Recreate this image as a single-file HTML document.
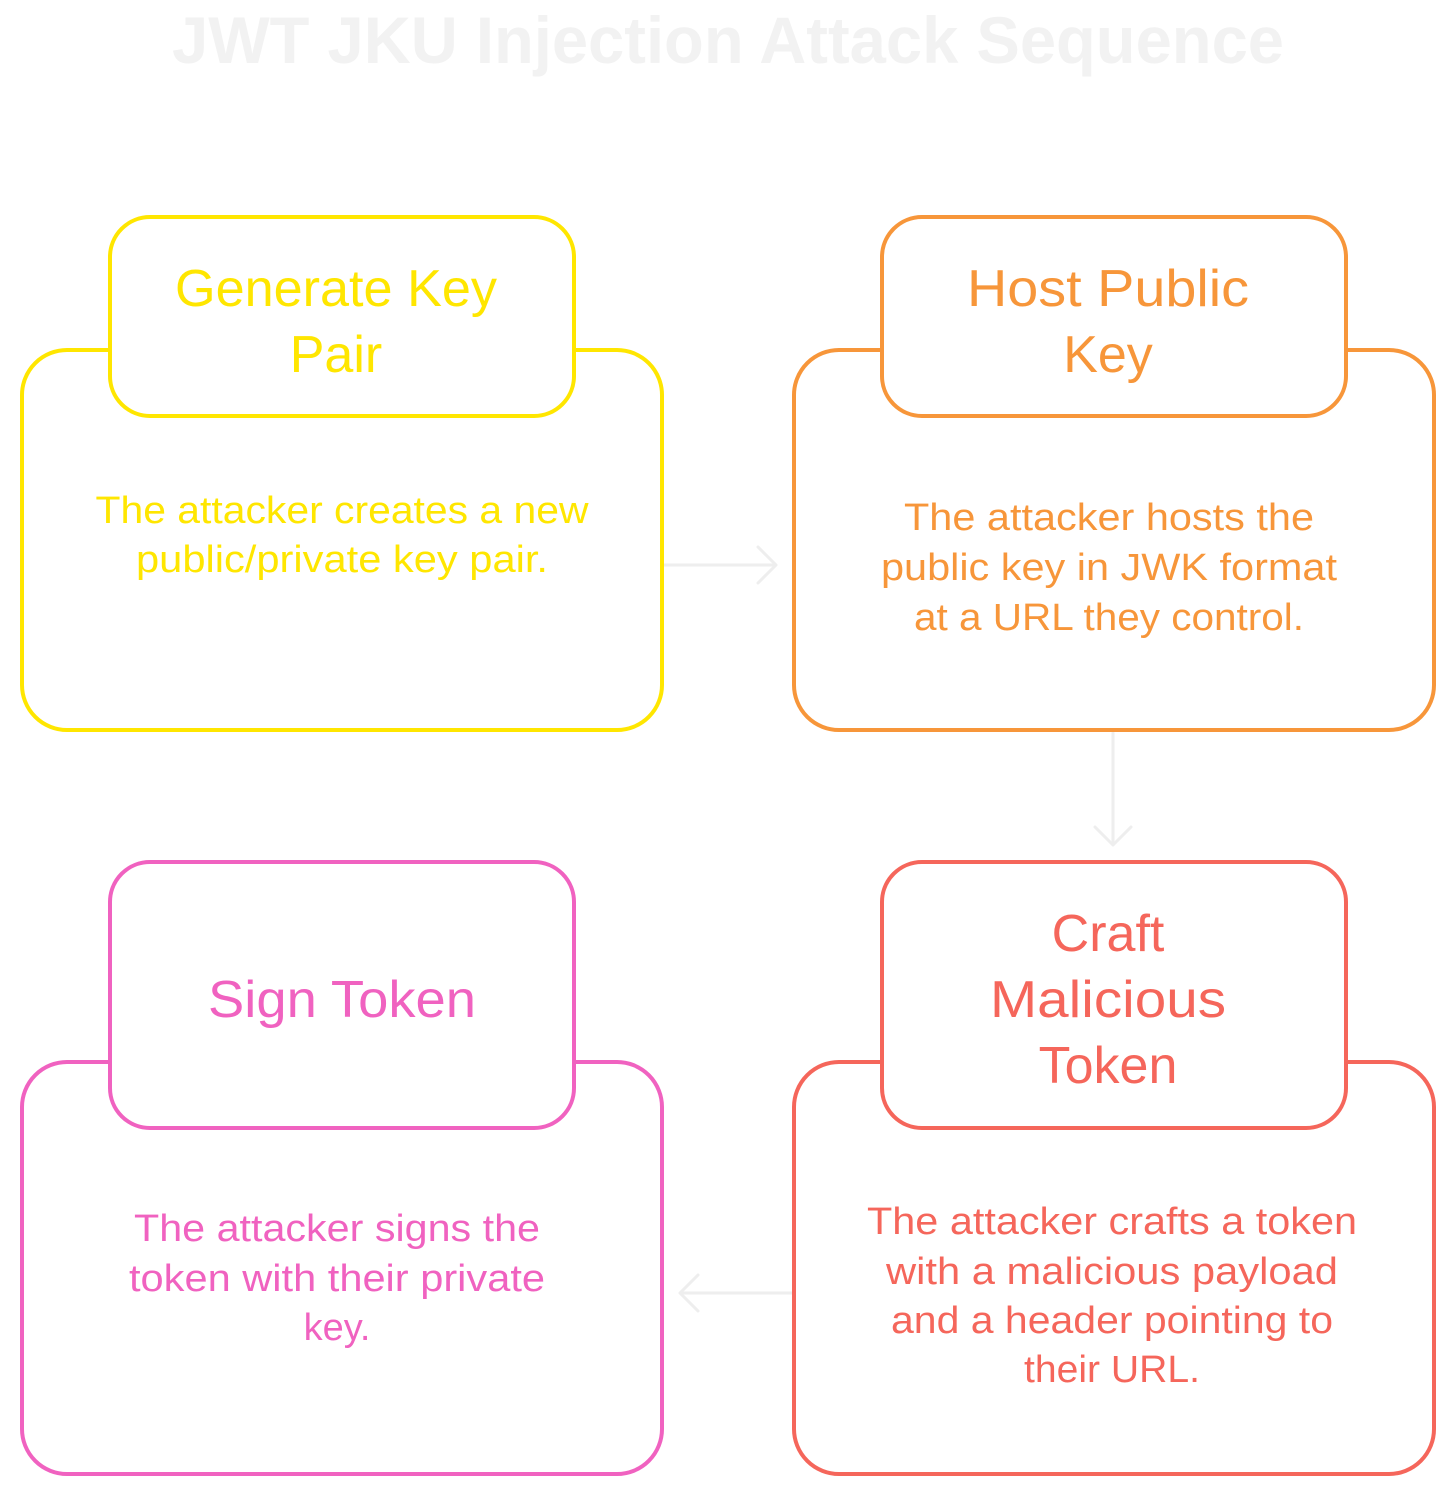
<!DOCTYPE html>
<html><head><meta charset="utf-8"><style>
html,body{margin:0;padding:0;background:#fff;}
svg{display:block;}
text{font-family:"Liberation Sans",sans-serif;}
</style></head><body>
<svg width="1456" height="1486" viewBox="0 0 1456 1486" xmlns="http://www.w3.org/2000/svg">
<text x="728" y="63" text-anchor="middle" font-size="66" font-weight="bold" fill="#f2f2f2" textLength="1112" lengthAdjust="spacingAndGlyphs">JWT JKU Injection Attack Sequence</text>

<g fill="none" stroke="#eeeeee" stroke-width="3" stroke-linecap="round" stroke-linejoin="round">
<path d="M664 565 H776 M758 547 L776 565 L758 583"/>
<path d="M1113 733 V845 M1095 827 L1113 845 L1131 827"/>
<path d="M792 1293 H680 M698 1275 L680 1293 L698 1311"/>
</g>

<!-- Top left -->
<rect x="22" y="350" width="640" height="380" rx="45" fill="#fff" stroke="#ffe600" stroke-width="4"/>
<rect x="110" y="217" width="464" height="199" rx="40" fill="#fff" stroke="#ffe600" stroke-width="4"/>
<g fill="#ffe600" text-anchor="middle">
<text x="336" y="306" font-size="52" textLength="322" lengthAdjust="spacingAndGlyphs">Generate Key</text>
<text x="336" y="372" font-size="52">Pair</text>
<text x="342" y="523" font-size="38" textLength="493" lengthAdjust="spacingAndGlyphs">The attacker creates a new</text>
<text x="342" y="572" font-size="38" textLength="412" lengthAdjust="spacingAndGlyphs">public/private key pair.</text>
</g>

<!-- Top right -->
<rect x="794" y="350" width="640" height="380" rx="45" fill="#fff" stroke="#f7963a" stroke-width="4"/>
<rect x="882" y="217" width="464" height="199" rx="40" fill="#fff" stroke="#f7963a" stroke-width="4"/>
<g fill="#f7963a" text-anchor="middle">
<text x="1108" y="306" font-size="52" textLength="282" lengthAdjust="spacingAndGlyphs">Host Public</text>
<text x="1108" y="372" font-size="52">Key</text>
<text x="1109" y="530" font-size="38" textLength="410" lengthAdjust="spacingAndGlyphs">The attacker hosts the</text>
<text x="1109" y="580" font-size="38" textLength="456" lengthAdjust="spacingAndGlyphs">public key in JWK format</text>
<text x="1109" y="630" font-size="38" textLength="390" lengthAdjust="spacingAndGlyphs">at a URL they control.</text>
</g>

<!-- Bottom right -->
<rect x="794" y="1062" width="640" height="412" rx="45" fill="#fff" stroke="#f5665b" stroke-width="4"/>
<rect x="882" y="862" width="464" height="266" rx="40" fill="#fff" stroke="#f5665b" stroke-width="4"/>
<g fill="#f5665b" text-anchor="middle">
<text x="1108" y="951" font-size="52">Craft</text>
<text x="1108" y="1017" font-size="52" textLength="236" lengthAdjust="spacingAndGlyphs">Malicious</text>
<text x="1108" y="1083" font-size="52">Token</text>
<text x="1112" y="1234" font-size="38" textLength="490" lengthAdjust="spacingAndGlyphs">The attacker crafts a token</text>
<text x="1112" y="1284" font-size="38" textLength="452" lengthAdjust="spacingAndGlyphs">with a malicious payload</text>
<text x="1112" y="1333" font-size="38" textLength="442" lengthAdjust="spacingAndGlyphs">and a header pointing to</text>
<text x="1112" y="1382" font-size="38" textLength="176" lengthAdjust="spacingAndGlyphs">their URL.</text>
</g>

<!-- Bottom left -->
<rect x="22" y="1062" width="640" height="412" rx="45" fill="#fff" stroke="#f062c0" stroke-width="4"/>
<rect x="110" y="862" width="464" height="266" rx="40" fill="#fff" stroke="#f062c0" stroke-width="4"/>
<g fill="#f062c0" text-anchor="middle">
<text x="342" y="1017" font-size="52" textLength="268" lengthAdjust="spacingAndGlyphs">Sign Token</text>
<text x="337" y="1241" font-size="38" textLength="406" lengthAdjust="spacingAndGlyphs">The attacker signs the</text>
<text x="337" y="1291" font-size="38" textLength="416" lengthAdjust="spacingAndGlyphs">token with their private</text>
<text x="337" y="1340" font-size="38">key.</text>
</g>
</svg>
</body></html>
